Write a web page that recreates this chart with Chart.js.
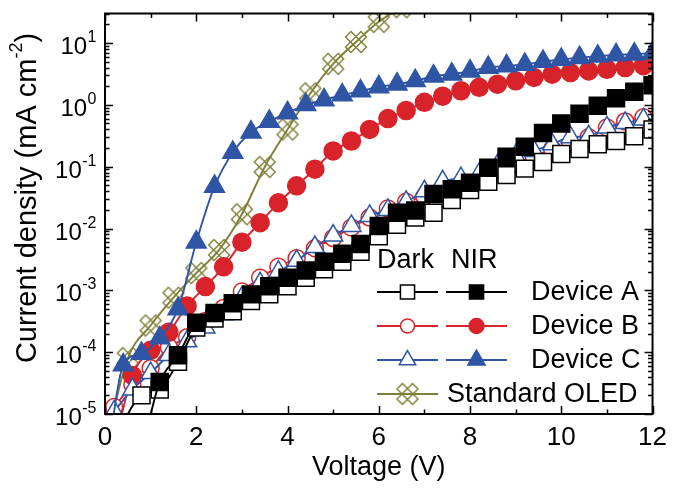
<!DOCTYPE html>
<html>
<head>
<meta charset="utf-8">
<title>J-V curves</title>
<script src="https://cdn.jsdelivr.net/npm/chart.js@4.4.0/dist/chart.umd.min.js"></script>
<style>
  html, body { margin: 0; padding: 0; background: #fff; }
</style>
</head>
<body>
<canvas id="jv" width="675" height="492"></canvas>
<script>
// voltages at which the markers sit
const voltsEven = [0, 0.4, 0.8, 1.2, 1.6, 2.0, 2.4, 2.8, 3.2, 3.6, 4.0, 4.4, 4.8, 5.2, 5.6, 6.0,
  6.4, 6.8, 7.2, 7.6, 8.0, 8.4, 8.8, 9.2, 9.6, 10.0, 10.4, 10.8, 11.2, 11.6, 12.0];
const voltsOdd = [0.2, 0.6, 1.0, 1.4, 1.8, 2.2, 2.6, 3.0, 3.4, 3.8, 4.2, 4.6, 5.0, 5.4, 5.8,
  6.2, 6.6, 7.0, 7.4, 7.8, 8.2, 8.6, 9.0, 9.4, 9.8, 10.2, 10.6, 11.0, 11.4, 11.8];
const voltsOled = [0, 0.5, 1.0, 1.5, 2.0, 2.5, 3.0, 3.5, 4.0, 4.5, 5.0, 5.5, 6.0, 6.5];

// current density, mA cm-2
const darkA = [1e-6, 7e-6, 2.0e-5, 2.5e-5, 7e-5, 2.5e-4, 3.5e-4, 4.6e-4, 6.7e-4, 8.6e-4, 1.16e-3,
  1.6e-3, 2.2e-3, 2.9e-3, 4.2e-3, 7.5e-3, 0.0115, 0.015, 0.018, 0.029, 0.042, 0.057, 0.073,
  0.093, 0.119, 0.16, 0.193, 0.23, 0.26, 0.31, 0.40];
const nirA = [1e-6, 1.5e-6, 3e-6, 3.3e-5, 8.9e-5, 3.0e-4, 4.3e-4, 6.2e-4, 8.6e-4, 1.16e-3, 1.6e-3,
  2.1e-3, 2.9e-3, 3.9e-3, 5.6e-3, 0.011, 0.018, 0.0195, 0.036, 0.043, 0.055, 0.096, 0.145,
  0.21, 0.35, 0.50, 0.72, 0.97, 1.28, 1.63, 2.07];
const darkB = [1.3e-5, 3e-5, 5.5e-5, 1.2e-4, 1.75e-4, 3.2e-4, 5.2e-4, 9.6e-4, 1.6e-3, 2.4e-3,
  3.3e-3, 4.8e-3, 7e-3, 0.0104, 0.015, 0.021, 0.027, 0.033, 0.038, 0.045, 0.059, 0.077, 0.112,
  0.143, 0.193, 0.23, 0.30, 0.43, 0.54, 0.63];
const nirB = [3e-6, 4.2e-5, 1.07e-4, 2.1e-4, 5.6e-4, 1.15e-3, 2.4e-3, 6.0e-3, 0.0124, 0.026,
  0.049, 0.091, 0.18, 0.26, 0.40, 0.60, 0.81, 1.10, 1.38, 1.69, 1.92, 2.16, 2.45, 2.77, 3.13,
  3.33, 3.54, 3.76, 4.0, 4.3];
const darkC = [1.1e-5, 2.5e-5, 4.6e-5, 9e-5, 1.5e-4, 2.5e-4, 4.1e-4, 7.6e-4, 1.3e-3, 2.0e-3,
  3.0e-3, 5.0e-3, 7.7e-3, 0.011, 0.016, 0.020, 0.027, 0.040, 0.058, 0.065, 0.077, 0.105, 0.15,
  0.18, 0.23, 0.30, 0.31, 0.43, 0.51, 0.58];
const nirC = [1e-6, 6.2e-5, 9.5e-5, 1.7e-4, 5.0e-4, 6.0e-3, 0.048, 0.17, 0.36, 0.54, 0.74, 1.0,
  1.2, 1.44, 1.67, 1.95, 2.16, 2.45, 2.9, 3.13, 3.5, 4.0, 4.25, 4.5, 5.0, 5.4, 5.8, 6.1, 6.4,
  6.6, 6.9];
const oled = [3e-6, 8e-5, 2.7e-4, 7.6e-4, 1.9e-3, 4.5e-3, 0.017, 0.099, 0.40, 1.53, 4.6, 10.4, 22, 38];

const xTicks = [0, 2, 4, 6, 8, 10, 12];
const yDecades = [-5, -4, -3, -2, -1, 0, 1];

const FONT = "'Liberation Sans', Arial, sans-serif";
const RED = '#d8232a', BLUE = '#2f55a5', OLIVE = '#7f7f38';

function crossMarker(color) {
  const c = document.createElement('canvas');
  c.width = 26; c.height = 26;
  const g = c.getContext('2d');
  g.strokeStyle = color;
  g.lineWidth = 1.4;
  g.translate(13, 13);
  [Math.PI / 4, -Math.PI / 4].forEach(a => {
    g.save();
    g.rotate(a);
    g.strokeRect(-11, -3.8, 22, 7.6);
    g.restore();
  });
  return c;
}
const oledMark = crossMarker(OLIVE);

const pts = (xs, ys) => xs.map((x, i) => ({ x: x, y: ys[i] }));

function series(label, xs, ys, color, style, radius, open) {
  return {
    label: label,
    data: pts(xs, ys),
    borderColor: color,
    borderWidth: 1.9,
    pointStyle: style,
    pointRadius: radius,
    pointBorderWidth: 1.5,
    pointBorderColor: color,
    pointBackgroundColor: open ? '#fff' : color,
    cubicInterpolationMode: 'monotone',
    fill: false
  };
}

// dataset 0 ends up on top
const datasets = [
  series('Device A NIR', voltsEven, nirA, '#000', 'rect', 12, false),
  series('Device A Dark', voltsEven, darkA, '#000', 'rect', 12, true),
  series('Device C NIR', voltsEven, nirC, BLUE, 'triangle', 11.5, false),
  series('Device C Dark', voltsOdd, darkC, BLUE, 'triangle', 11, true),
  series('Device B NIR', voltsOdd, nirB, RED, 'circle', 9, false),
  series('Device B Dark', voltsOdd, darkB, RED, 'circle', 8.5, true),
  series('Standard OLED', voltsOled, oled, OLIVE, oledMark, 10, true)
];

const framePlugin = {
  id: 'frame',
  afterDatasetsDraw(chart) {
    const ctx = chart.ctx, a = chart.chartArea;
    const xs = chart.scales.x, ys = chart.scales.y;
    ctx.save();
    ctx.strokeStyle = '#000';
    ctx.lineWidth = 2;
    ctx.strokeRect(a.left, a.top, a.right - a.left, a.bottom - a.top);
    ctx.lineWidth = 1.5;
    ctx.beginPath();
    for (let v = xs.min; v <= xs.max; v += 1) {
      const px = Math.round(xs.getPixelForValue(v)) + 0.5;
      const len = v % 2 === 0 ? 8 : 4.5;
      ctx.moveTo(px, a.bottom); ctx.lineTo(px, a.bottom - len);
      ctx.moveTo(px, a.top); ctx.lineTo(px, a.top + len);
    }
    yDecades.forEach(k => {
      for (let m = 1; m <= 9; m++) {
        const v = m * Math.pow(10, k);
        if (v > ys.max) break;
        const py = Math.round(ys.getPixelForValue(v)) + 0.5;
        const len = m === 1 ? 8 : 4.5;
        ctx.moveTo(a.left, py); ctx.lineTo(a.left + len, py);
        ctx.moveTo(a.right, py); ctx.lineTo(a.right - len, py);
      }
    });
    ctx.stroke();
    ctx.restore();
  },
  afterDraw(chart) {
    const ctx = chart.ctx, ys = chart.scales.y;
    ctx.save();
    ctx.fillStyle = '#000';
    ctx.textBaseline = 'alphabetic';
    // y tick labels 10^k
    yDecades.forEach(k => {
      const py = ys.getPixelForValue(Math.pow(10, k));
      const sup = String(k);
      ctx.font = '24px ' + FONT;
      const wb = ctx.measureText('10').width;
      ctx.font = '16px ' + FONT;
      const wsup = ctx.measureText(sup).width;
      const x0 = 96 - wb - wsup;
      ctx.font = '24px ' + FONT;
      ctx.fillText('10', x0, py + 11);
      ctx.font = '16px ' + FONT;
      ctx.fillText(sup, x0 + wb + 0.5, py - 1);
    });
    // y axis title
    ctx.save();
    ctx.translate(26, 198);
    ctx.rotate(-Math.PI / 2);
    const p1 = 'Current density (mA cm', p2 = '-2', p3 = ')';
    ctx.font = '29px ' + FONT;
    const w1 = ctx.measureText(p1).width, w3 = ctx.measureText(p3).width;
    ctx.font = '18px ' + FONT;
    const w2 = ctx.measureText(p2).width;
    let tx = -(w1 + w2 + w3) / 2;
    ctx.font = '29px ' + FONT;
    ctx.fillText(p1, tx, 10);
    tx += w1;
    ctx.font = '18px ' + FONT;
    ctx.fillText(p2, tx, -4);
    tx += w2;
    ctx.font = '29px ' + FONT;
    ctx.fillText(p3, tx, 10);
    ctx.restore();

    // legend
    ctx.font = '27px ' + FONT;
    ctx.fillText('Dark', 377, 268);
    ctx.fillText('NIR', 451, 268);
    const rows = [
      { y: 292, label: 'Device A', dark: datasets[1], nir: datasets[0] },
      { y: 326, label: 'Device B', dark: datasets[5], nir: datasets[4] },
      { y: 360, label: 'Device C', dark: datasets[3], nir: datasets[2] },
      { y: 394, label: 'Standard OLED', dark: datasets[6], nir: null }
    ];
    const sample = (ds, x1, x2, y) => {
      ctx.strokeStyle = ds.borderColor;
      ctx.lineWidth = 1.9;
      ctx.beginPath();
      ctx.moveTo(x1, y); ctx.lineTo(x2, y);
      ctx.stroke();
      ctx.fillStyle = ds.pointBackgroundColor;
      ctx.lineWidth = ds.pointBorderWidth;
      Chart.helpers.drawPoint(ctx, {
        pointStyle: ds.pointStyle,
        radius: ds.pointStyle === 'rect' ? 10 : ds.pointRadius - 1.5,
        borderWidth: ds.pointBorderWidth,
        rotation: 0
      }, (x1 + x2) / 2, y);
    };
    rows.forEach(r => {
      sample(r.dark, 377, 438, r.y);
      if (r.nir) sample(r.nir, 446, 507, r.y);
      ctx.fillStyle = '#000';
      ctx.font = '27px ' + FONT;
      ctx.textBaseline = 'middle';
      ctx.fillText(r.label, r.nir ? 531 : 447, r.y + 1);
      ctx.textBaseline = 'alphabetic';
    });
    ctx.restore();
  }
};

new Chart(document.getElementById('jv'), {
  type: 'line',
  data: { datasets: datasets },
  options: {
    responsive: false,
    animation: false,
    layout: { padding: { top: 6, right: 19, left: 0, bottom: 0 } },
    plugins: { legend: { display: false }, tooltip: { enabled: false } },
    scales: {
      x: {
        type: 'linear',
        min: 0,
        max: 12,
        afterBuildTicks: scale => { scale.ticks = xTicks.map(v => ({ value: v })); },
        afterFit: scale => { scale.height = 78; },
        ticks: { color: '#000', font: { family: FONT, size: 26 }, padding: 8, maxRotation: 0 },
        grid: { display: false, drawTicks: false },
        border: { display: false },
        title: {
          display: true,
          text: 'Voltage (V)',
          color: '#000',
          font: { family: FONT, size: 27 },
          padding: { top: 0, bottom: 8 }
        }
      },
      y: {
        type: 'logarithmic',
        min: 1e-5,
        max: 30,
        afterFit: scale => { scale.width = 105; },
        ticks: { display: false },
        grid: { display: false, drawTicks: false },
        border: { display: false }
      }
    }
  },
  plugins: [framePlugin]
});
</script>
</body>
</html>
